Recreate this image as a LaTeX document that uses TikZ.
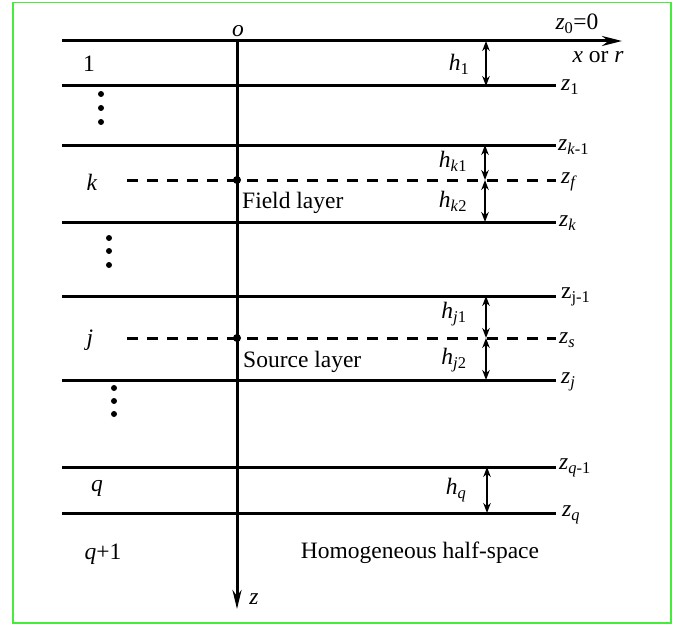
\documentclass[tikz,border=0pt]{standalone}
\usepackage{fontspec}
\setmainfont{Liberation Serif}
\usetikzlibrary{arrows.meta}
\newcommand{\zl}[1]{\textit{z}\textsubscript{#1}}
\begin{document}
\begin{tikzpicture}[x=1pt,y=-1pt,
  font=\fontsize{23.5}{27}\selectfont,
  layer/.style={line width=3pt},
  dashlayer/.style={line width=3pt,dash pattern=on 11pt off 9pt},
  harrow/.style={line width=2pt,{Stealth[length=10pt,width=7.5pt]}-{Stealth[length=10pt,width=7.5pt]}},
  dotmark/.style={circle,fill,inner sep=0pt,minimum size=8pt},
  rlab/.style={anchor=west,inner sep=0pt},
  lab/.style={inner sep=0pt}]
\useasboundingbox (0,0) rectangle (683,626);
\draw[line width=1.8pt,draw={rgb,255:red,70;green,235;blue,60}] (13,2.5) rectangle (671,623);
% coordinates
\foreach \n/\y in {1/86,km/145,k/222,jm/296,j/380,qm/467,q/513}{
  \coordinate (L\n) at (62,\y); \coordinate (R\n) at (556,\y);}
\coordinate (L0) at (62,41); \coordinate (R0) at (622,41);
\coordinate (Lf) at (127,180); \coordinate (Rf) at (556,180);
\coordinate (Ls) at (127,338); \coordinate (Rs) at (556,338);
\coordinate (Otop) at (237,41); \coordinate (Obot) at (237,609);
% axes
\draw[layer,-{Stealth[length=20pt,width=10pt]}] (L0) -- (R0);
\draw[layer,-{Stealth[length=19pt,width=9pt]}] (Otop) -- (Obot);
% layer lines
\foreach \n in {1,km,k,jm,j,qm,q}{\draw[layer] (L\n) -- (R\n);}
\draw[dashlayer] (Lf) -- (Rf);
\draw[dashlayer] (Ls) -- (Rs);
\node[dotmark] (pf) at (237,180) {};
\node[dotmark] (ps) at (237,338) {};
% thickness arrows
\coordinate (a0) at (486,41); \coordinate (a1) at (486,86);
\coordinate (b0) at (485,145); \coordinate (b1) at (485,180); \coordinate (b2) at (485,222);
\coordinate (c0) at (486,296); \coordinate (c1) at (486,338); \coordinate (c2) at (486,380);
\coordinate (d0) at (487,467); \coordinate (d1) at (487,513);
\draw[harrow] (a0) -- (a1);
\draw[harrow] (b0) -- (b1);
\draw[harrow] (b1) -- (b2);
\draw[harrow] (c0) -- (c1);
\draw[harrow] (c1) -- (c2);
\draw[harrow] (d0) -- (d1);
% dots
\foreach \x/\y in {101/94,101/108,101/122,109/238,109/251,109/265,114/388,114/401,114/414}{
  \fill (\x,\y) circle (3pt);}
% labels
\node[lab] (o) at (238,31) {\textit{o}};
\node[lab] (z0) at (577,24) {\zl{0}=0};
\node[lab] (xr) at (598,57) {\textit{x} or \textit{r}};
\node[lab] (zax) at (254,599) {\textit{z}};
\node[lab] (h1) at (459,64) {\textit{h}\textsubscript{1}};
\node[lab] (hk1) at (453,161) {\textit{h}\textsubscript{\textit{k}1}};
\node[lab] (hk2) at (453,201) {\textit{h}\textsubscript{\textit{k}2}};
\node[lab] (hj1) at (454,314) {\textit{h}\textsubscript{\textit{j}1}};
\node[lab] (hj2) at (454,360) {\textit{h}\textsubscript{\textit{j}2}};
\node[lab] (hq) at (456,490) {\textit{h}\textsubscript{\textit{q}}};
\node[rlab] (lz1) at (561,87) {\zl{1}};
\node[rlab] (lzkm) at (558,147) {\zl{\textit{k}-1}};
\node[rlab] (lzf) at (561,182) {\zl{\textit{f}}};
\node[rlab] (lzk) at (559,223) {\zl{\textit{k}}};
\node[rlab] (lzjm) at (561,297) {z\textsubscript{j-1}};
\node[rlab] (lzs) at (559,340) {\zl{\textit{s}}};
\node[rlab] (lzj) at (561,382) {\zl{\textit{j}}};
\node[rlab] (lzqm) at (559,468) {\zl{\textit{q}-1}};
\node[rlab] (lzq) at (562,515) {\zl{\textit{q}}};
\node[lab] (n1) at (89,64) {1};
\node[lab] (nk) at (92,182) {\textit{k}};
\node[lab] (nj) at (90,340) {\textit{j}};
\node[lab] (nq) at (97,488) {\textit{q}};
\node[lab] (nq1) at (103,554) {\textit{q}+1};
\node[lab,anchor=west] (fl) at (242,203) {Field layer};
\node[lab,anchor=west] (sl) at (243,362) {Source layer};
\node[lab] (hh) at (420,553) {Homogeneous half-space};
\end{tikzpicture}
\end{document}
